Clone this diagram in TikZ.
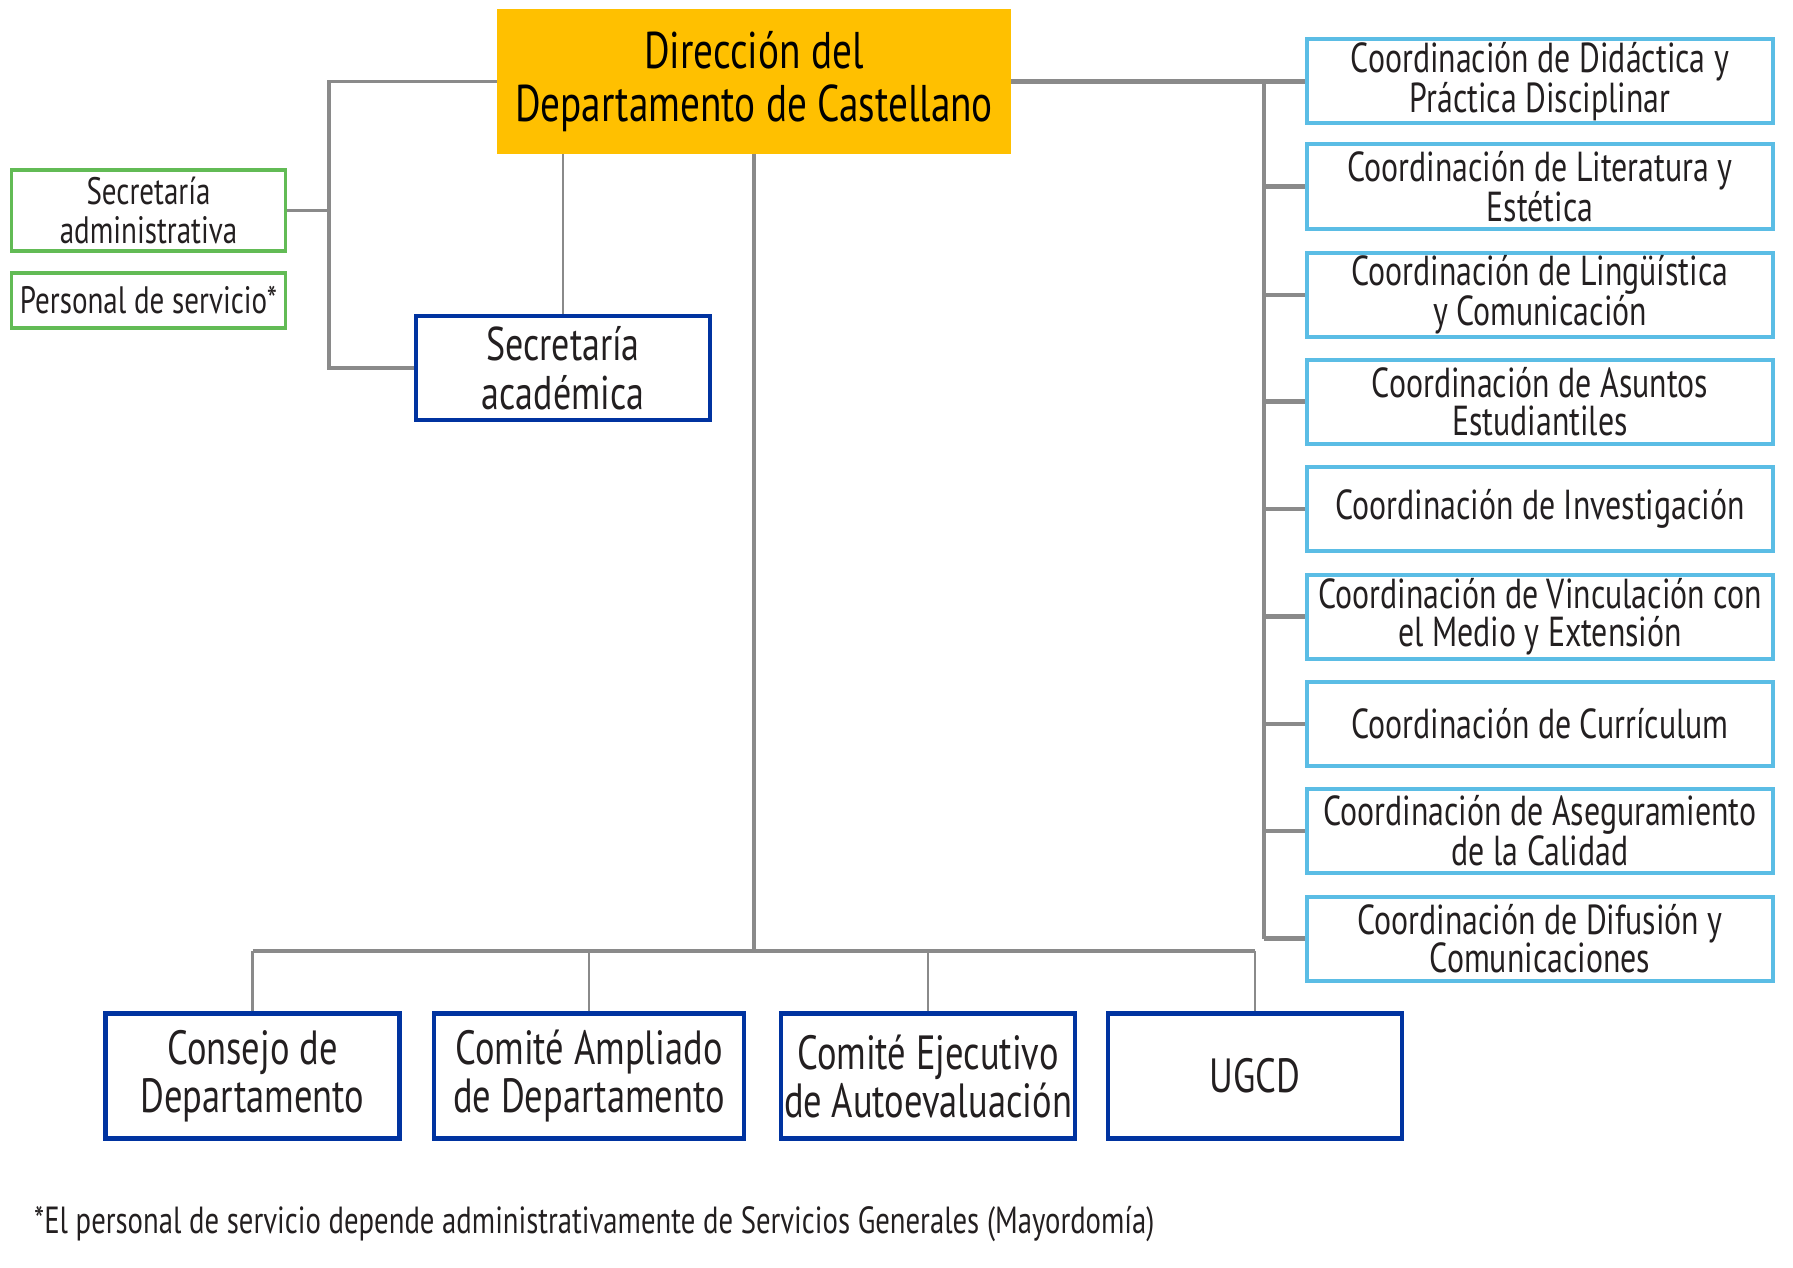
\documentclass[tikz,border=0pt]{standalone}
\usepackage{fontspec}
\setmainfont{PT Sans}[FakeStretch=0.76]
\definecolor{txt}{HTML}{231F20}
\definecolor{dirfill}{HTML}{FFC000}
\definecolor{dblue}{HTML}{0033A0}
\definecolor{lblue}{HTML}{5BBDE5}
\definecolor{grn}{HTML}{62BB55}
\definecolor{conn}{HTML}{8A8A8A}
\tikzset{
  base/.style={align=center, text=txt, inner sep=0pt, fill=white},
  dirbox/.style={base, fill=dirfill, draw=none, text=black, minimum width=514, minimum height=145,
    font=\fontsize{51.6}{53}\selectfont},
  darkbox/.style={base, draw=dblue, line width=4.5pt, minimum width=294, minimum height=125,
    font=\fontsize{48}{48}\selectfont},
  coordbox/.style={base, draw=lblue, line width=4pt, minimum width=466, minimum height=84,
    font=\fontsize{41.9}{38.5}\selectfont},
  greenbox/.style={base, draw=grn, line width=3.5pt, minimum width=274,
    font=\fontsize{38.2}{39}\selectfont},
  thick conn/.style={draw=conn, line width=4.5pt},
  mid conn/.style={draw=conn, line width=3.5pt},
  thin conn/.style={draw=conn, line width=2.5pt},
}
\begin{document}
\begin{tikzpicture}[x=1pt, y=-1pt]
\useasboundingbox (0,0) rectangle (1793,1268);
% top
\node[dirbox] (dir) at (754,81.5) {Dirección del\\Departamento de Castellano};
% left side
\node[greenbox, minimum height=81] (secadm) at (148.5,210.5) {Secretaría\\administrativa};
\node[greenbox, minimum height=55] (pers) at (148.5,300.5) {Personal de servicio*};
\node[darkbox, minimum width=294, minimum height=104, font=\fontsize{47.3}{49}\selectfont] (secac) at (563,368) {Secretaría\\académica};
% bottom
\node[darkbox] (b1) at (252.5,1076) {Consejo de\\Departamento};
\node[darkbox, minimum width=310] (b2) at (589,1076) {Comité Ampliado\\de Departamento};
\node[darkbox] (b3) at (928,1076) {Comité Ejecutivo\\de Autoevaluación};
\node[darkbox] (b4) at (1255,1076) {UGCD};
% right
\node[coordbox] (r1) at (1540,81.5) {Coordinación de Didáctica y\\Práctica Disciplinar};
\node[coordbox] (r2) at (1540,186.5) {Coordinación de Literatura y\\Estética};
\node[coordbox] (r3) at (1540,295) {Coordinación de Lingüística\\y Comunicación};
\node[coordbox] (r4) at (1540,401.5) {Coordinación de Asuntos\\Estudiantiles};
\node[coordbox] (r5) at (1540,509) {Coordinación de Investigación};
\node[coordbox] (r6) at (1540,616.5) {Coordinación de Vinculación con\\el Medio y Extensión};
\node[coordbox] (r7) at (1540,724) {Coordinación de Currículum};
\node[coordbox] (r8) at (1540,831) {Coordinación de Aseguramiento\\de la Calidad};
\node[coordbox] (r9) at (1540,938.5) {Coordinación de Difusión y\\Comunicaciones};
% footnote
\node[anchor=west, text=txt, inner sep=0pt, font=\fontsize{37.8}{40}\selectfont] (foot) at (34,1224)
  {*El personal de servicio depende administrativamente de Servicios Generales (Mayordomía)};
% connectors
\coordinate (lx) at (329,0);
\coordinate (rx) at (1264,0);
\coordinate (bus) at (754,951);
\path[mid conn] (dir.west) -| (lx |- secac.west) -- (secac.west);
\path[mid conn] (secadm.east) -- (secadm.east -| lx);
\path[thin conn] (secac.north) -- (secac.north |- dir.south);
\path[mid conn] (dir.south) -- (bus);
\path[mid conn] (b1.north |- bus) -- (b4.north |- bus);
\foreach \b in {b1,b2,b3,b4} \path[thin conn] (\b.north) -- (\b.north |- bus);
\path[thick conn] (dir.east) -- (r1.west);
\path[thick conn] (rx |- r1.west) -- (rx |- r9.west);
\foreach \r in {r2,r3,r4,r5,r6,r7,r8,r9} \path[thick conn] (rx |- \r.west) -- (\r.west);
\end{tikzpicture}
\end{document}
